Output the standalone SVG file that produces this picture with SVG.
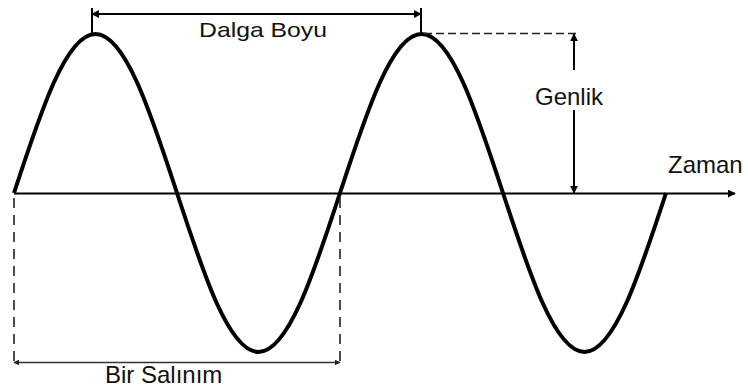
<svg xmlns="http://www.w3.org/2000/svg" width="748" height="392" viewBox="0 0 748 392">
<defs>
<marker id="ah" viewBox="0 0 10 10" refX="9" refY="5" markerWidth="8" markerHeight="8" markerUnits="userSpaceOnUse" orient="auto-start-reverse">
<path d="M0,0 L10,5 L0,10 z" fill="#000"/>
</marker>
<marker id="ahs" viewBox="0 0 10 10" refX="9" refY="5" markerWidth="6" markerHeight="6" markerUnits="userSpaceOnUse" orient="auto-start-reverse">
<path d="M0,0 L10,5 L0,10 z" fill="#222"/>
</marker>
</defs>
<style>
.t{font-family:"Liberation Sans",Arial,sans-serif;font-size:24px;fill:#111}
.ln{stroke:#000;stroke-width:2;fill:none}
.th{stroke:#333;stroke-width:1.5;fill:none}
.ds{stroke:#222;stroke-width:1.6;fill:none;stroke-dasharray:10 7}
.dt{stroke:#222;stroke-width:1.6;fill:none;stroke-dasharray:8 4}
.wave{stroke:#000;stroke-width:4;fill:none;stroke-linejoin:round}
</style>
<rect width="748" height="392" fill="#fff"/>
<g id="axis">
<line class="ln" x1="14" y1="193.5" x2="735" y2="193.5" marker-end="url(#ah)"/>
</g>
<g id="wave">
<path class="wave" d="M14,193 C40.58,111.55 66,34 95.5,34 S150.42,111.55 177,193 S229,352 258.5,352 S313.42,274.45 340,193 S392,34 421.5,34 S476.42,111.55 503,193 S555,352 584.5,352 S639.42,274.45 666,193"/>
</g>
<g id="connectors">
<line class="ln" x1="92" y1="14" x2="421" y2="14" marker-start="url(#ah)" marker-end="url(#ah)"/>
<line class="ln" x1="92" y1="8" x2="92" y2="34"/>
<line class="ln" x1="421" y1="8" x2="421" y2="34"/>
<line class="dt" x1="424" y1="33.5" x2="578" y2="33.5"/>
<line class="ln" x1="574" y1="70" x2="574" y2="34" marker-end="url(#ah)"/>
<line class="ln" x1="574" y1="110" x2="574" y2="193" marker-end="url(#ah)"/>
<line class="ds" x1="14" y1="198" x2="14" y2="362"/>
<line class="ds" x1="340" y1="198" x2="340" y2="362"/>
<line class="th" x1="14" y1="362.5" x2="340" y2="362.5" marker-start="url(#ahs)" marker-end="url(#ahs)"/>
</g>
<g id="labels">
<text class="t" x="199" y="37" textLength="128" lengthAdjust="spacingAndGlyphs" style="font-size:21px">Dalga Boyu</text>
<text class="t" x="535" y="105">Genlik</text>
<text class="t" x="668" y="173">Zaman</text>
<text class="t" x="105" y="383">Bir Salınım</text>
</g>
</svg>
